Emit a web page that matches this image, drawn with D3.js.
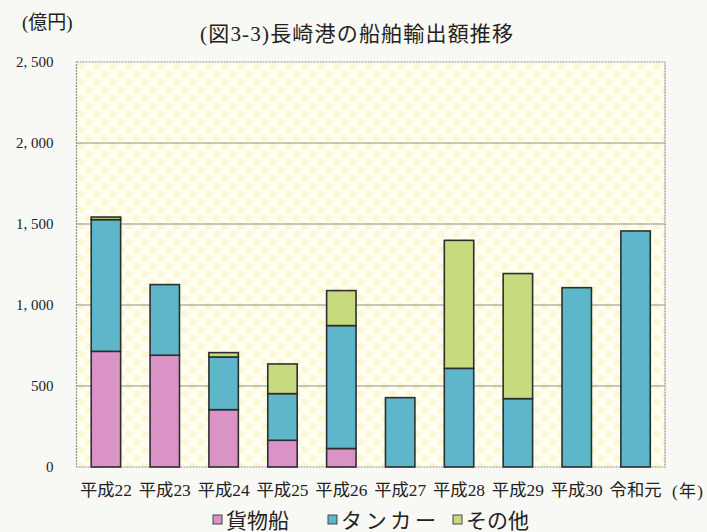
<!DOCTYPE html>
<html>
<head>
<meta charset="utf-8">
<script src="https://cdn.jsdelivr.net/npm/d3@7"></script>
<style>
  html, body { margin: 0; padding: 0; background: #f8f8f4; }
  svg { display: block; }
  text { font-family: "Liberation Serif", "DejaVu Serif", "Noto Sans CJK JP", serif; fill: #222; }
</style>
</head>
<body>
<svg id="chart" width="707" height="532"></svg>
<script>
// 年度ラベル
const years = ["平成22", "平成23", "平成24", "平成25", "平成26", "平成27", "平成28", "平成29", "平成30", "令和元"];
// 船種別の輸出額（億円）
const cargo  = [714, 690, 354, 165, 114, 0, 0, 0, 0, 0];
const tanker = [813, 436, 325, 288, 759, 428, 609, 422, 1107, 1457];
const other  = [16, 0, 27, 183, 216, 0, 790, 772, 0, 0];
const seriesNames = ["貨物船", "タンカー", "その他"];
const seriesColors = ["#d993c6", "#5db6c9", "#c7da7d"];
const yTicks = [0, 500, 1000, 1500, 2000, 2500];

const svg = d3.select("#chart");
const margin = { left: 76.5, right: 42, top: 62, bottom: 65 };
const W = 707, H = 532;
const x0 = margin.left, x1 = W - margin.right;
const y0 = H - margin.bottom, y1 = margin.top;

const x = d3.scaleBand().domain(years).range([x0, x1]).paddingInner(0.5).paddingOuter(0.25);
const y = d3.scaleLinear().domain([0, 2500]).range([y0, y1]);

// 背景の市松模様
const defs = svg.append("defs");
const pat = defs.append("pattern").attr("id", "check")
  .attr("patternUnits", "userSpaceOnUse").attr("width", 16).attr("height", 16)
  .attr("x", x0).attr("y", y1);
pat.append("rect").attr("width", 16).attr("height", 16).attr("fill", "#fefef1");
pat.append("rect").attr("x", 1).attr("y", 1).attr("width", 7).attr("height", 6).attr("fill", "#faf7d2");
pat.append("rect").attr("x", 9).attr("y", 9).attr("width", 7).attr("height", 6).attr("fill", "#faf7d2");

svg.append("rect").attr("x", x0).attr("y", y1).attr("width", x1 - x0).attr("height", y0 - y1)
  .attr("fill", "url(#check)").attr("stroke", "#8f8f8a").attr("stroke-width", 1.2)
  .attr("stroke-dasharray", "2,1");

// 目盛線
svg.append("g").selectAll("line").data(yTicks.filter(d => d > 0 && d < 2500)).join("line")
  .attr("x1", x0).attr("x2", x1)
  .attr("y1", d => y(d)).attr("y2", d => y(d))
  .attr("stroke", "#8f8f8a").attr("stroke-width", 1.2);

// Y軸ラベル
const yAxis = d3.axisLeft(y).tickValues(yTicks).tickSize(0).tickPadding(0)
  .tickFormat(d => d3.format(",")(d).replace(",", ", "));
const gy = svg.append("g").attr("transform", `translate(${x0 - 23},0)`).call(yAxis);
gy.select(".domain").remove();
gy.selectAll("text").style("font-size", "15px").attr("fill", "#222")
  .style("font-family", '"Liberation Serif", serif');

// 積み上げ棒
const rows = years.map((yr, i) => ({ year: yr, s0: cargo[i], s1: tanker[i], s2: other[i] }));
const stack = d3.stack().keys(["s0", "s1", "s2"])(rows);
svg.append("g").selectAll("g").data(stack).join("g")
  .attr("fill", (d, i) => seriesColors[i])
  .selectAll("rect").data(d => d.filter(p => p[1] - p[0] > 0)).join("rect")
  .attr("x", d => x(d.data.year))
  .attr("width", x.bandwidth())
  .attr("y", d => y(d[1]))
  .attr("height", d => y(d[0]) - y(d[1]))
  .attr("stroke", "#2e2e2e").attr("stroke-width", 1.6);

// X軸ラベル
const xAxis = d3.axisBottom(x).tickSize(0).tickPadding(0);
const gx = svg.append("g").attr("transform", `translate(0,${y0 + 17})`).call(xAxis);
gx.select(".domain").remove();
gx.selectAll("text").style("font-size", "17px").attr("fill", "#222")
  .style("font-family", '"Liberation Serif", "Noto Sans CJK JP", serif')
  .attr("textLength", 52).attr("lengthAdjust", "spacingAndGlyphs");
svg.append("text").attr("x", 672).attr("y", y0 + 30)
  .style("font-size", "17px").attr("textLength", 31).attr("lengthAdjust", "spacing").text("(年)");

// 単位とタイトル
svg.append("text").attr("x", 22).attr("y", 29)
  .style("font-size", "19px").text("(億円)");
svg.append("text").attr("x", 200).attr("y", 41)
  .style("font-size", "21px").attr("textLength", 313).attr("lengthAdjust", "spacing")
  .text("(図3-3)長崎港の船舶輸出額推移");

// 凡例
const legendX = [213, 328, 453];
const legendW = [null, 95, null];
const lg = svg.append("g").selectAll("g").data(seriesNames).join("g")
  .attr("transform", (d, i) => `translate(${legendX[i]},${H - 4})`);
lg.append("rect").attr("x", 0).attr("y", -13).attr("width", 9).attr("height", 9)
  .attr("fill", (d, i) => seriesColors[i]).attr("stroke", "#444").attr("stroke-width", 1);
lg.append("text").attr("x", 13).attr("y", 0).style("font-size", "21px")
  .attr("textLength", (d, i) => legendW[i])
  .attr("lengthAdjust", (d, i) => legendW[i] ? "spacing" : null)
  .text(d => d);
</script>
</body>
</html>
